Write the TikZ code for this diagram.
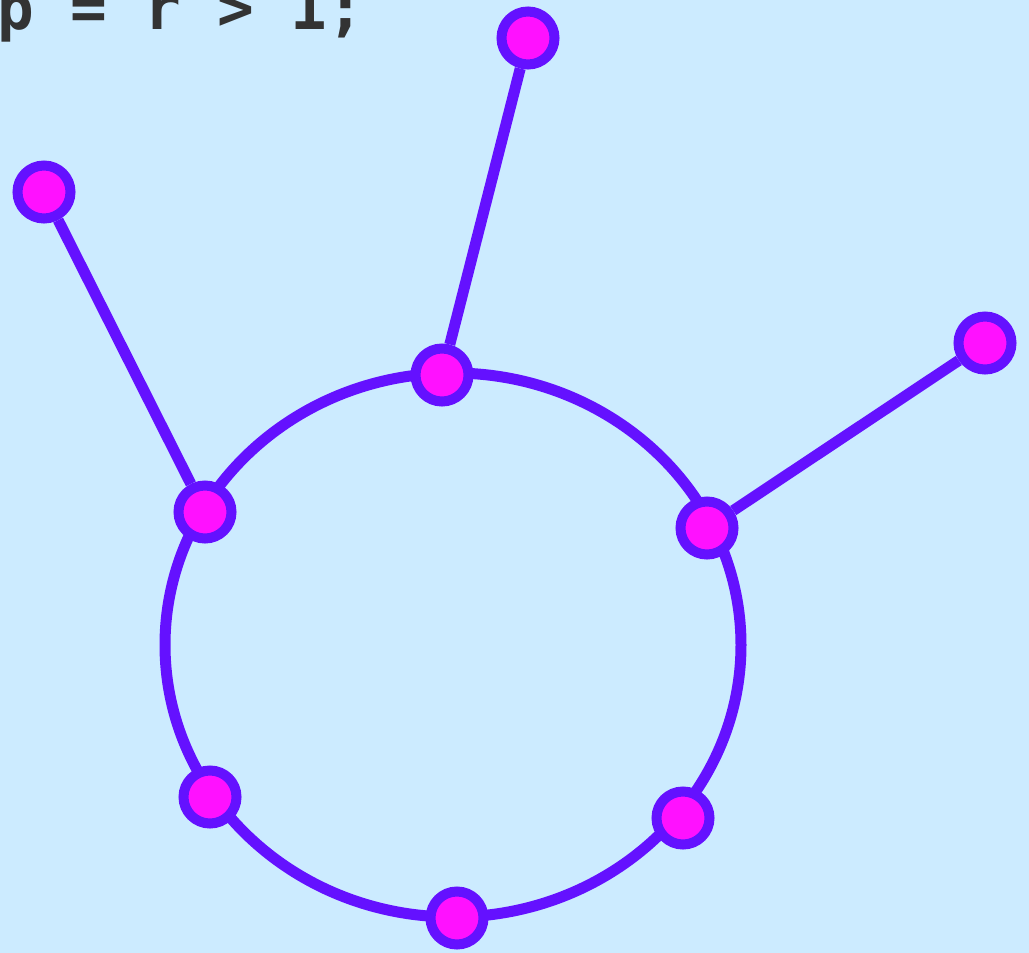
\documentclass[tikz,border=0pt]{standalone}
\usepackage{fontspec}
\newfontfamily\codefont{DejaVu Sans Mono}
\definecolor{bg}{HTML}{CCEBFF}
\definecolor{edgec}{HTML}{6411FF}
\definecolor{fillc}{HTML}{FF11FF}
\definecolor{txt}{HTML}{333333}
\pgfdeclarelayer{bgfill}
\pgfdeclarelayer{edges}
\pgfsetlayers{bgfill,edges,main}
\tikzset{
  vert/.style={circle, draw=edgec, fill=fillc, line width=10pt, minimum size=53pt, inner sep=0pt},
  link/.style={draw=edgec, line width=11pt},
}
\begin{document}
\begin{tikzpicture}[x=1pt,y=-1pt]
\clip (0,0) rectangle (1029,953);
\begin{pgfonlayer}{bgfill}
\fill[bg] (0,0) rectangle (1029,953);
\end{pgfonlayer}
\node[anchor=base west, inner sep=0pt, text=txt, font=\codefont\bfseries\fontsize{61}{62}\selectfont] (code) at (-3,30) {p = r > 1;};
\coordinate (c) at (453,645);
\node[vert] (t) at (442,375) {};
\node[vert] (r) at (707,528) {};
\node[vert] (lr) at (683,818) {};
\node[vert] (b) at (457,918) {};
\node[vert] (ll) at (210,797) {};
\node[vert] (l) at (205,512) {};
\node[vert] (ot) at (528,38) {};
\node[vert] (ol) at (44,192) {};
\node[vert] (or) at (985,343) {};
\begin{pgfonlayer}{edges}
\path[link] (c) ellipse [x radius=288, y radius=272];
\path[link] (t) -- (ot);
\path[link] (l) -- (ol);
\path[link] (r) -- (or);
\end{pgfonlayer}
\end{tikzpicture}
\end{document}
